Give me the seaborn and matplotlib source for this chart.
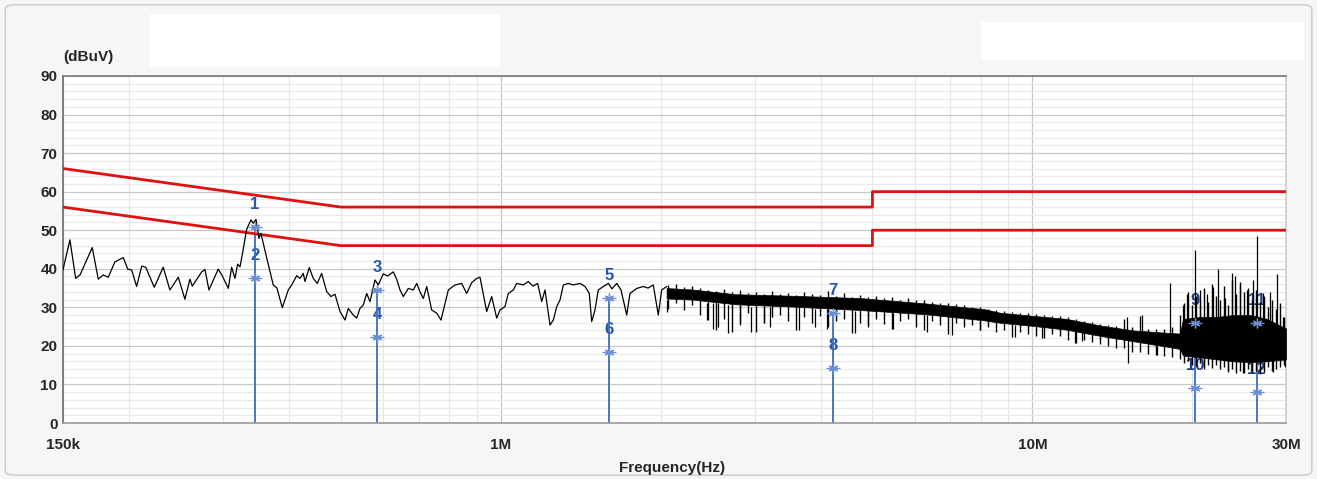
import matplotlib
matplotlib.use("Agg")
import matplotlib.pyplot as plt
from matplotlib.patches import FancyBboxPatch, Rectangle
from matplotlib.ticker import FixedLocator, NullFormatter
import seaborn as sns

# measured trace, single-line part (MHz, dBuV)
trace_f = [0.150, 0.1546, 0.1585, 0.1615, 0.1703, 0.1748, 0.1786, 0.1825, 0.1879, 0.1948,
           0.1986, 0.2020, 0.2064, 0.2110, 0.2147, 0.2228, 0.2316, 0.2384, 0.2472, 0.2544,
           0.2600, 0.2627, 0.2736, 0.2775, 0.2823, 0.2939, 0.2988, 0.3070, 0.3115, 0.3160,
           0.3197, 0.3230, 0.3261, 0.3324, 0.3387, 0.3420, 0.3461, 0.3506, 0.3536, 0.3609,
           0.3730, 0.3790, 0.3879, 0.3981, 0.4040, 0.4129, 0.4188, 0.4248, 0.4280, 0.4360,
           0.4436, 0.4514, 0.4600, 0.4701, 0.4790, 0.4874, 0.4981, 0.5090, 0.5163, 0.5276,
           0.5354, 0.5431, 0.5509, 0.5591, 0.5672, 0.5796, 0.5879, 0.6008, 0.6123, 0.6273,
           0.6367, 0.6460, 0.6553, 0.6696, 0.6843, 0.6945, 0.7045, 0.7146, 0.7252, 0.7410,
           0.7572, 0.7715, 0.7826, 0.7963, 0.8197, 0.8437, 0.8622, 0.8812, 0.9005, 0.9135,
           0.9403, 0.9609, 0.9820, 0.9961, 1.0179, 1.0325, 1.0551, 1.0708, 1.1018, 1.1259,
           1.1492, 1.1727, 1.1934, 1.2106, 1.2371, 1.2549, 1.2736, 1.2919, 1.3105, 1.3392,
           1.3685, 1.4088, 1.4397, 1.4666, 1.4818, 1.5032, 1.5248, 1.5583, 1.5925, 1.6182,
           1.6515, 1.6827, 1.7247, 1.7495, 1.8009, 1.8531, 1.8915, 1.935, 1.9775, 2.0067,
           2.0507]
trace_db = [39.7, 47.5, 37.5, 38.4, 45.5, 37.3, 38.4, 37.8, 41.8, 42.9,
            39.9, 39.7, 35.4, 40.7, 40.4, 35.2, 40.4, 34.5, 37.8, 32.1,
            37.3, 35.5, 39.2, 39.8, 34.5, 39.9, 38.3, 34.9, 40.4, 37.5,
            41.2, 40.5, 43.6, 50.2, 52.7, 51.8, 52.8, 47.9, 49.2, 44.0,
            35.8, 35.0, 29.9, 34.5, 35.8, 38.2, 37.5, 38.8, 36.7, 40.3,
            37.5, 36.2, 38.8, 34.1, 32.8, 33.4, 28.9, 26.7, 29.7, 28.0,
            27.2, 29.7, 30.6, 33.6, 31.5, 37.1, 35.8, 38.7, 38.1, 39.2,
            37.3, 34.5, 32.8, 34.9, 34.5, 36.2, 34.0, 32.3, 35.4, 29.3,
            28.5, 26.7, 30.2, 34.5, 35.8, 36.2, 33.6, 36.4, 37.5, 37.8,
            28.9, 32.8, 27.2, 29.3, 30.2, 33.6, 34.5, 36.2, 35.8, 36.7,
            35.5, 36.2, 31.5, 34.5, 25.4, 26.7, 30.2, 31.9, 35.8, 36.2,
            35.8, 36.2, 35.4, 33.6, 26.3, 29.3, 34.5, 35.4, 36.2, 34.8,
            36.2, 34.5, 28.0, 33.6, 34.9, 35.4, 35.0, 35.8, 28.0, 34.5,
            35.4]

# dense part of the trace: core of the black band
band_f = [2.05, 2.30, 2.76, 3.54, 4.74, 6.31, 8.14, 8.69, 10.0, 11.6,
          13.4, 15.5, 17.9, 18.95, 19.2, 20.7, 22.25, 23.8, 25.7, 27.6, 30.0]
band_lo = [32.3, 32.0, 30.8, 30.2, 29.3, 28.2, 26.6, 26.0, 25.2, 24.2,
           22.6, 21.2, 19.8, 19.2, 17.5, 17.0, 16.5, 16.0, 15.8, 16.0, 16.5]
band_hi = [35.0, 34.6, 33.4, 33.0, 32.4, 31.0, 29.5, 28.6, 27.8, 27.0,
           25.3, 24.0, 23.4, 23.2, 27.0, 27.5, 27.5, 28.0, 28.0, 27.0, 24.5]

# ragged edges of the band (ink extent at each frequency)
edge_f = [2.062, 2.135, 2.210, 2.288, 2.369, 2.452, 2.539, 2.629, 2.721, 2.817,
          2.917, 3.020, 3.126, 3.237, 3.351, 3.469, 3.592, 3.718, 3.850, 3.986,
          4.126, 4.272, 4.423, 4.579, 4.740, 4.908, 5.081, 5.260, 5.446, 5.638,
          5.837, 6.043, 6.257, 6.477, 6.706, 6.943, 7.188, 7.442, 7.704, 7.976,
          8.258, 8.549, 8.851, 9.164, 9.487, 9.822, 10.17, 10.53, 10.90, 11.28,
          11.68, 12.09, 12.52, 12.96, 13.42, 13.89, 14.38, 14.89, 15.42, 15.96,
          16.52, 17.11, 17.71, 18.34, 18.98,
          19.28, 19.62, 19.96, 20.31, 20.66, 21.02, 21.39, 21.77, 22.15, 22.53,
          22.93, 23.33, 23.73, 24.15, 24.57, 25.00, 25.44, 25.88, 26.33, 26.79,
          27.26, 27.74, 28.22, 28.72, 29.22, 29.73]
edge_lo = [29.5, 31.0, 29.3, 30.5, 28.0, 26.7, 24.0, 27.0, 23.7, 26.0,
           28.5, 23.7, 25.9, 27.5, 28.0, 26.5, 24.1, 27.5, 26.0, 27.8,
           25.0, 26.5, 27.0, 23.3, 26.0, 25.5, 27.0, 25.8, 24.5, 26.5,
           27.0, 25.0, 24.0, 26.5, 25.5, 23.0, 26.0, 25.0, 25.5, 24.0,
           25.0, 23.5, 24.0, 22.4, 23.5, 23.0, 22.5, 22.0, 23.0, 22.5,
           21.5, 20.7, 21.5, 21.0, 20.5, 20.0, 19.5, 19.5, 18.5, 18.5,
           18.0, 17.6, 17.5, 17.0, 16.5,
           15.5, 16.0, 15.0, 14.8, 15.5, 14.5, 15.0, 14.2, 15.0, 14.0,
           14.5, 13.5, 14.0, 13.0, 13.5, 13.0, 14.0, 13.2, 13.5, 14.0,
           13.3, 14.5, 13.5, 14.0, 14.5, 15.0]
edge_hi = [35.8, 36.0, 35.2, 35.5, 35.0, 34.6, 34.2, 34.8, 34.0, 34.4,
           33.8, 34.0, 33.5, 34.2, 33.4, 33.8, 33.2, 34.0, 33.5, 33.3,
           34.2, 33.0, 33.6, 32.8, 33.2, 32.6, 33.0, 32.4, 32.8, 32.0,
           32.4, 31.8, 32.0, 31.5, 31.2, 31.0, 30.8, 30.5, 30.2, 30.0,
           29.6, 29.2, 29.0, 28.8, 28.6, 28.4, 28.2, 28.0, 27.8, 27.8,
           27.5, 27.0, 26.5, 26.2, 25.8, 25.5, 25.2, 27.0, 25.0, 27.8,
           24.5, 24.5, 24.3, 25.0, 28.0,
           31.0, 34.0, 30.5, 33.0, 32.0, 35.0, 31.5, 36.0, 33.0, 32.0,
           35.5, 30.5, 37.0, 33.5, 36.5, 34.0, 35.0, 32.0, 34.5, 31.5,
           33.0, 30.0, 32.0, 29.5, 31.0, 27.5]

# single spikes sticking out of the band
spike_f = [2.05, 2.44, 2.51, 2.565, 2.68, 2.82, 2.96, 3.12, 3.21, 3.63,
           3.90, 4.10, 4.64, 4.91, 5.47, 6.32, 7.05, 7.97, 9.27, 10.41,
           12.03, 12.38, 15.1, 17.13, 15.05, 16.05, 18.15, 19.18, 19.5, 20.2,
           20.7, 21.3, 21.9, 22.35, 23.0, 23.7, 24.0, 24.6, 25.3, 26.0,
           26.5, 27.2, 28.0, 28.8, 29.6, 21.0, 23.3, 24.9, 26.8, 28.4, 29.9]
spike_lo = [28.9, 26.7, 24.5, 25.0, 23.3, 25.5, 23.7, 25.9, 25.0, 24.1,
            25.0, 24.5, 23.3, 25.0, 24.5, 23.7, 22.8, 24.0, 22.4, 22.0,
            20.7, 21.3, 15.5, 17.6, 22.0, 22.0, 21.0, 20.0, 20.0, 22.0,
            22.0, 22.0, 22.0, 22.0, 22.0, 22.0, 22.0, 22.0, 22.0, 22.0,
            22.0, 22.0, 22.0, 22.0, 22.0, 14.0, 13.2, 12.9, 12.8, 13.3, 14.6]
spike_hi = [32.0, 31.0, 31.0, 31.0, 30.5, 30.5, 30.0, 30.0, 30.0, 30.0,
            29.5, 29.5, 29.0, 29.0, 28.5, 28.0, 27.5, 27.0, 25.5, 25.0,
            24.0, 24.0, 22.0, 20.0, 27.6, 28.0, 36.2, 30.5, 33.5, 44.9,
            34.5, 33.5, 35.4, 39.9, 32.5, 38.8, 38.0, 35.8, 34.5, 37.1,
            48.5, 33.6, 34.0, 38.6, 27.6, 22.0, 22.0, 22.0, 22.0, 22.0, 22.0]

# limit lines (QP and AV)
limit_f = [0.15, 0.5, 5.0, 5.0, 30.0]
qp_db = [66, 56, 56, 60, 60]
av_db = [56, 46, 46, 50, 50]

# marker table
mk_f = [0.344, 0.344, 0.585, 0.585, 1.60, 1.60, 4.21, 4.21, 20.2, 20.2, 26.4, 26.4]
mk_db = [50.9, 37.6, 34.5, 22.4, 32.4, 18.4, 28.5, 14.3, 25.9, 9.2, 25.9, 8.1]
mk_labels = ["1", "2", "3", "4", "5", "6", "7", "8", "9", "10", "11", "12"]

x_ticks = [0.15, 1, 10, 30]
x_ticklabels = ["150k", "1M", "10M", "30M"]

sns.set_style("white")
plt.rcParams["font.family"] = ["Liberation Sans", "DejaVu Sans"]
plt.rcParams["font.weight"] = "bold"

fig = plt.figure(figsize=(13.17, 4.79), dpi=100, facecolor="#f6f6f6")
fig.patches.append(FancyBboxPatch((0.004, 0.008), 0.992, 0.982, boxstyle="round,pad=0,rounding_size=0.008",
                                  transform=fig.transFigure, fc="#f6f6f6", ec="#cfcfcf", lw=1.2, zorder=-3))
fig.patches.append(Rectangle((0.114, 0.86), 0.266, 0.11, transform=fig.transFigure, fc="white", ec="none", zorder=-2))
fig.patches.append(Rectangle((0.745, 0.875), 0.245, 0.08, transform=fig.transFigure, fc="white", ec="none", zorder=-2))

ax = fig.add_axes([0.0478, 0.1169, 0.9287, 0.7245])
ax.set_zorder(1)
ax.set_facecolor("white")
ax.set_xscale("log")
ax.set_xlim(0.15, 30)
ax.set_ylim(0, 90)

# grid
minor_x = [0.2, 0.3, 0.4, 0.5, 0.6, 0.7, 0.8, 0.9, 2, 3, 4, 5, 6, 7, 8, 9, 20]
ax.xaxis.set_major_locator(FixedLocator(x_ticks))
ax.xaxis.set_minor_locator(FixedLocator(minor_x))
ax.xaxis.set_minor_formatter(NullFormatter())
ax.set_xticklabels(x_ticklabels)
ax.set_yticks(range(0, 91, 10))
ax.yaxis.set_minor_locator(FixedLocator(range(0, 91, 2)))
ax.grid(which="major", axis="y", color="#c9c9c9", lw=0.9)
ax.grid(which="minor", axis="y", color="#e9e9e9", lw=0.8)
ax.grid(which="major", axis="x", color="#c6c6c6", lw=0.9)
ax.grid(which="minor", axis="x", color="#e4e4e4", lw=0.8)
ax.set_axisbelow(True)
ax.tick_params(which="both", length=0)
ax.tick_params(axis="y", pad=4, labelsize=11)
ax.tick_params(axis="x", pad=11, labelsize=11)
for lab in ax.get_xticklabels() + ax.get_yticklabels():
    lab.set_fontweight("bold")

for side, col in [("left", "#6e6e6e"), ("top", "#7a7a7a"), ("bottom", "#9a9a9a"), ("right", "#cccccc")]:
    ax.spines[side].set_visible(True)
    ax.spines[side].set_color(col)
    ax.spines[side].set_linewidth(1.2)

# limits
sns.lineplot(x=limit_f, y=qp_db, estimator=None, sort=False, color="#e01010", lw=2.0, ax=ax, zorder=3)
sns.lineplot(x=limit_f, y=av_db, estimator=None, sort=False, color="#e01010", lw=2.0, ax=ax, zorder=3)

# marker lines and labels
for f, lab, d in zip(mk_f, mk_labels, mk_db):
    col = "#2456b0" if int(lab) <= 8 else "#1c3c86"
    ax.annotate(lab, (f, d), xytext=(0, 16), textcoords="offset points", ha="center", va="center",
                fontsize=12, fontweight="bold", color=col, zorder=2)
for f, top in zip(mk_f[::2], mk_db[::2]):
    ax.vlines(f, 0, top, color="#3a6cc0", lw=1.3, zorder=2)

# trace
sns.lineplot(x=trace_f, y=trace_db, estimator=None, sort=False, color="black", lw=0.9, ax=ax, zorder=4)
ax.fill_between(band_f, band_lo, band_hi, color="black", lw=0.5, zorder=4)
ax.vlines(edge_f, edge_lo, edge_hi, color="black", lw=1.0, zorder=4)
ax.vlines(spike_f, spike_lo, spike_hi, color="black", lw=0.9, zorder=4)

# asterisks
sns.scatterplot(x=mk_f, y=mk_db, marker="_", s=90, color="#6b8fd2", linewidth=1.0, ax=ax, zorder=5)
sns.scatterplot(x=mk_f, y=mk_db, marker=(6, 2, 0), s=40, color="#6b8fd2", linewidth=1.0, ax=ax, zorder=5)

ax.set_xlabel("")
ax.set_ylabel("")
fig.text(0.0478, 0.882, "(dBuV)", fontsize=11, fontweight="bold", ha="left", va="center")
fig.text(0.5105, 0.023, "Frequency(Hz)", fontsize=11, fontweight="bold", ha="center", va="center")

fig.savefig("out.png", dpi=100, facecolor=fig.get_facecolor())
